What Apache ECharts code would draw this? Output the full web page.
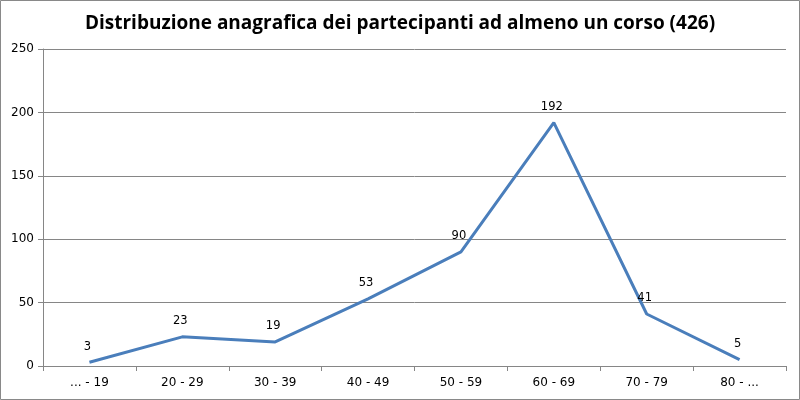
<!DOCTYPE html>
<html><head><meta charset="utf-8">
<script src="https://cdn.jsdelivr.net/npm/echarts@6/dist/echarts.min.js"></script>
<style>html,body{margin:0;padding:0;background:#fff}#c{width:800px;height:400px}</style>
</head><body><div id="c"></div>
<script>
const titleText = 'Distribuzione anagrafica dei partecipanti ad almeno un corso (426)';
const categories = ['... - 19','20 - 29','30 - 39','40 - 49','50 - 59','60 - 69','70 - 79','80 - ...'];
const values = [3, 23, 19, 53, 90, 192, 41, 5];
const yMin = 0, yMax = 250, yStep = 50;

const chart = echarts.init(document.getElementById('c'));
chart.setOption({
  animation: false,
  backgroundColor: '#fff',
  graphic: [{type:'rect', shape:{x:0.5,y:0.5,width:799,height:399}, style:{fill:'none', stroke:'#898989', lineWidth:1}, silent:true}],
  title: {text: titleText, left: 'center', top: 9,
    textStyle:{fontFamily:'Open Sans', fontWeight:'bold', fontSize:19, color:'#000'}},
  grid: {left: 43, right: 14, top: 49, bottom: 34, containLabel:false},
  xAxis: {type:'category', data: categories, boundaryGap:true,
    axisLine:{lineStyle:{color:'#868686'}},
    axisTick:{show:true, alignWithLabel:false, length:5, lineStyle:{color:'#868686'}},
    axisLabel:{fontFamily:'DejaVu Sans', fontSize:12, color:'#000', margin:11}},
  yAxis: {type:'value', min:yMin, max:yMax, interval:yStep,
    axisLine:{show:true, lineStyle:{color:'#868686'}},
    axisTick:{show:true, length:5, lineStyle:{color:'#868686'}},
    splitLine:{show:true, lineStyle:{color:'#868686'}},
    axisLabel:{fontFamily:'DejaVu Sans', fontSize:12, color:'#000', margin:9}},
  series: [{type:'line', data: values, symbol:'circle', symbolSize:1, showSymbol:true,
    itemStyle:{color:'rgba(0,0,0,0)'},
    lineStyle:{color:'#4a7ebb', width:3},
    label:{show:true, position:'top', distance:9, offset:[-2,0], fontFamily:'DejaVu Sans', fontSize:11.5, color:'#000'}}]
});
</script></body></html>
